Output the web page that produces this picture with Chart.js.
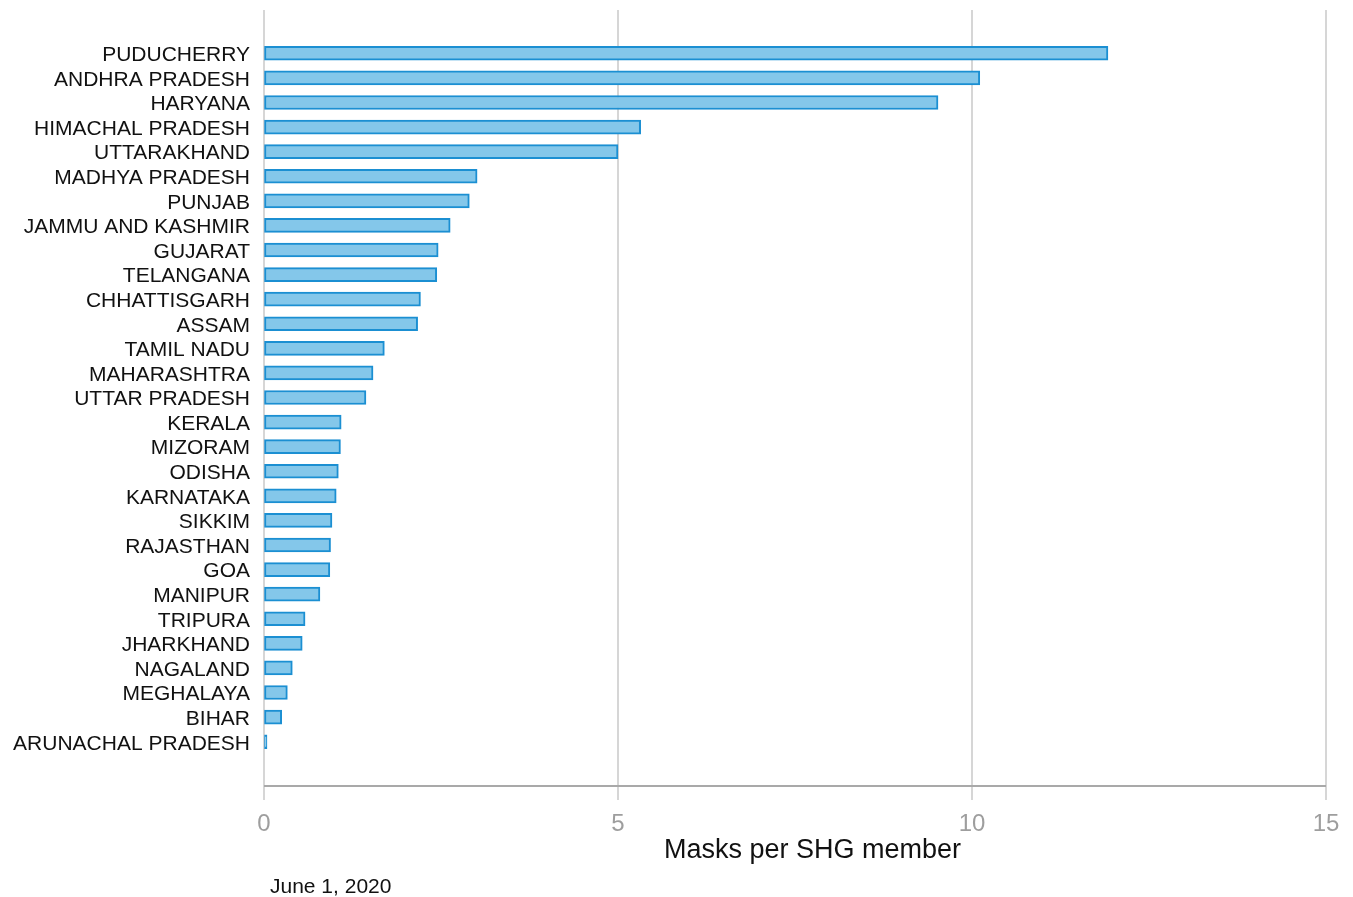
<!DOCTYPE html>
<html>
<head>
<meta charset="utf-8">
<script src="https://cdn.jsdelivr.net/npm/chart.js@4.4.1/dist/chart.umd.min.js"></script>
<style>
  body { margin: 0; background: #fff; font-family: "Liberation Sans", Arial, sans-serif; }
  #wrap { position: relative; width: 1353px; height: 897px; }
  #axis-title { position: absolute; left: 664px; top: 834px; font-size: 27px; color: #111; white-space: nowrap; }
  #date-note { position: absolute; left: 270px; top: 874px; font-size: 21px; color: #111; white-space: nowrap; }
</style>
</head>
<body>
<div id="wrap">
  <canvas id="masksChart" width="1353" height="897"></canvas>
  <div id="axis-title">Masks per SHG member</div>
  <div id="date-note">June 1, 2020</div>
</div>
<script>
const states = [
  "PUDUCHERRY", "ANDHRA PRADESH", "HARYANA", "HIMACHAL PRADESH", "UTTARAKHAND",
  "MADHYA PRADESH", "PUNJAB", "JAMMU AND KASHMIR", "GUJARAT", "TELANGANA",
  "CHHATTISGARH", "ASSAM", "TAMIL NADU", "MAHARASHTRA", "UTTAR PRADESH",
  "KERALA", "MIZORAM", "ODISHA", "KARNATAKA", "SIKKIM",
  "RAJASTHAN", "GOA", "MANIPUR", "TRIPURA", "JHARKHAND",
  "NAGALAND", "MEGHALAYA", "BIHAR", "ARUNACHAL PRADESH"
];
const masksPerMember = [
  11.92, 10.11, 9.52, 5.32, 5.0,
  3.01, 2.90, 2.63, 2.46, 2.44,
  2.21, 2.17, 1.70, 1.54, 1.44,
  1.09, 1.08, 1.05, 1.02, 0.96,
  0.94, 0.93, 0.79, 0.58, 0.54,
  0.40, 0.33, 0.25, 0.02
];
const xTicks = [0, 5, 10, 15];

// gridlines + baseline reach past the plot area like the original
const extendedGrid = {
  id: "extendedGrid",
  beforeDatasetsDraw(chart) {
    const { ctx, chartArea, scales } = chart;
    const top = chartArea.top - 31;
    const base = chartArea.bottom + 32;
    ctx.save();
    ctx.lineWidth = 2;
    ctx.strokeStyle = "#d6d6d6";
    xTicks.forEach((t) => {
      const x = Math.round(scales.x.getPixelForValue(t));
      ctx.beginPath();
      ctx.moveTo(x, top);
      ctx.lineTo(x, base + 14);
      ctx.stroke();
    });
    ctx.strokeStyle = "#a9a9a9";
    ctx.beginPath();
    ctx.moveTo(scales.x.getPixelForValue(0), base);
    ctx.lineTo(scales.x.getPixelForValue(15), base);
    ctx.stroke();
    ctx.restore();
  }
};

new Chart(document.getElementById("masksChart"), {
  type: "bar",
  data: {
    labels: states,
    datasets: [
      {
        data: masksPerMember,
        backgroundColor: "#84c7ea",
        borderColor: "#1b8fd2",
        borderWidth: 2,
        borderSkipped: false,
        barThickness: 14,
        minBarLength: 3
      }
    ]
  },
  options: {
    indexAxis: "y",
    responsive: false,
    animation: false,
    layout: { padding: { top: 41, right: 27, left: 0, bottom: 0 } },
    plugins: {
      legend: { display: false },
      tooltip: { enabled: false }
    },
    scales: {
      x: {
        min: 0,
        max: 15,
        afterBuildTicks: (scale) => {
          scale.ticks = xTicks.map((v) => ({ value: v }));
        },
        afterFit: (scale) => {
          scale.height = 143;
        },
        // invisible long tick marks push the labels down
        grid: { display: true, drawOnChartArea: false, color: "rgba(0,0,0,0)", drawTicks: true, tickLength: 49 },
        border: { display: false },
        ticks: {
          padding: 7,
          color: "#9e9e9e",
          font: { family: "Liberation Sans", size: 24 },
          maxRotation: 0
        }
      },
      y: {
        afterFit: (scale) => {
          scale.width = 264;
        },
        grid: { display: false, drawTicks: false },
        border: { display: false },
        ticks: {
          padding: 14,
          labelOffset: 2,
          color: "#111",
          autoSkip: false,
          font: { family: "Liberation Sans", size: 21 }
        }
      }
    }
  },
  plugins: [extendedGrid]
});
</script>
</body>
</html>
